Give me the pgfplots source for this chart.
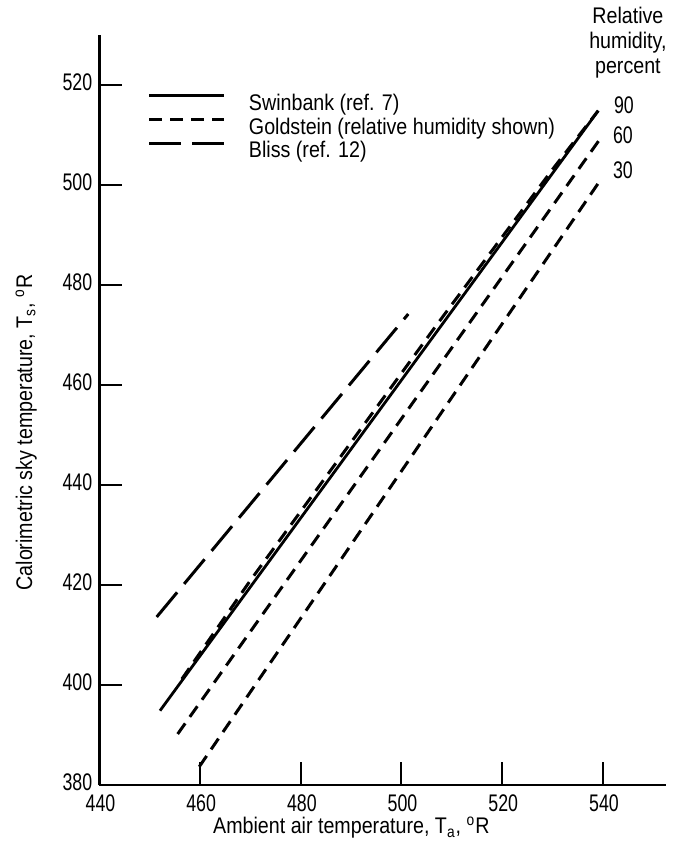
\documentclass[border=0pt]{standalone}
\usepackage{pgfplots}
\pgfplotsset{compat=1.18}
\usepackage{fontspec}
\setmainfont{Liberation Sans}[FakeStretch=0.87]
\newfontfamily\tickfont{Liberation Sans}[FakeStretch=0.74]
\begin{document}
\begin{tikzpicture}
\begin{axis}[
  scale only axis,
  width=283.2pt, height=375pt,
  xmin=440, xmax=552.5, ymin=380, ymax=530,
  axis lines=left,
  axis line style={-, line width=1.3pt},
  xtick={440,460,...,540}, ytick={380,400,...,520},
  tick align=inside,
  major tick length=11.5pt,
  tick style={line width=1.1pt, black},
  /pgf/number format/assume math mode=true,
  ticklabel style={font=\tickfont\fontsize{12}{13}\selectfont},
  x tick label style={yshift=-1.2pt, xshift=0.6pt},
  y tick label style={yshift=1.2pt},
  xlabel={Ambient air temperature, T\textsubscript{a}, \textsuperscript{o}R},
  ylabel={Calorimetric sky temperature, T\textsubscript{s}, \textsuperscript{o}R},
  label style={font=\fontsize{11.3}{13}\selectfont},
  x label style={at={(axis description cs:0.445,0)}, anchor=center, yshift=-21.5pt},
  y label style={at={(axis description cs:-0.129,0.47)}, anchor=center, rotate=0},
  clip=false,
  legend cell align=left,
  legend style={at={(axis cs:449.67,518.2)}, anchor=north west, draw=none, fill=none,
    inner sep=0pt, outer sep=0pt, row sep=2.2pt, column sep=11.5pt,
    font=\fontsize{11.3}{13}\selectfont, nodes={inner sep=0pt}},
  legend image code/.code={\draw[#1] (0pt,3.9pt) -- (37.5pt,3.9pt);},
]
\addplot[black, line width=1.4pt] coordinates {(452.06,394.86) (539.1,514.86)};
\addlegendentry{Swinbank (ref. 7)}
\addplot[black, line width=1.5pt, dash pattern=on 6.5pt off 4pt] coordinates {(456.4,401.2) (470,420.9) (507,472.0) (530,503.1) (539.1,514.86)};
\addlegendentry{Goldstein (relative humidity shown)}
\addplot[black, line width=1.5pt, dash pattern=on 16pt off 5.5pt] coordinates {(451.4,413.6) (501.37,474.2)};
\addlegendentry{Bliss (ref. 12)}
\addplot[black, line width=1.5pt, dash pattern=on 6.5pt off 4pt, forget plot] coordinates {(455.57,390.2) (539.78,509.66)};
\addplot[black, line width=1.5pt, dash pattern=on 6.5pt off 4pt, forget plot] coordinates {(459.86,383.66) (539.78,501.34)};
\node[align=center, font=\fontsize{11.3}{12.5}\selectfont] at (axis cs:545.0,528.4) {Relative\\humidity,\\percent};
\node[font=\tickfont\fontsize{12}{13}\selectfont] at (axis cs:544.2,516) {90};
\node[font=\tickfont\fontsize{12}{13}\selectfont] at (axis cs:544.0,510) {60};
\node[font=\tickfont\fontsize{12}{13}\selectfont] at (axis cs:544.0,503) {30};
\path (axis cs:420.28,537) rectangle (axis cs:553.74,367.6);
\end{axis}
\end{tikzpicture}
\end{document}
